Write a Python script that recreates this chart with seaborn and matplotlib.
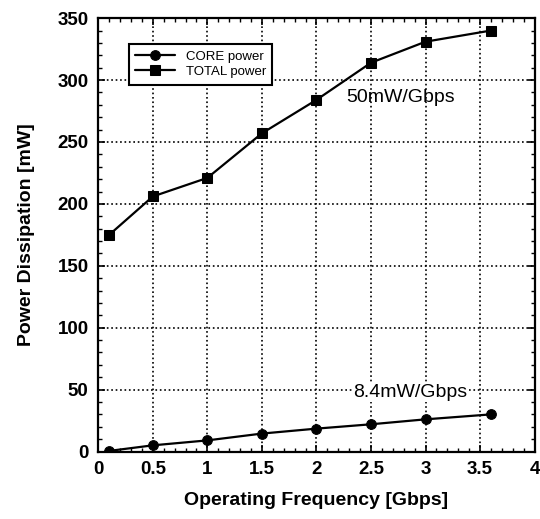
import matplotlib
matplotlib.use("Agg")
import matplotlib.pyplot as plt
import seaborn as sns
import pandas as pd
from matplotlib.ticker import MultipleLocator

# values
freq = [0.1, 0.5, 1.0, 1.5, 2.0, 2.5, 3.0, 3.6]
core_power = [0.5, 5, 9, 14.5, 18.5, 22, 26, 30]
total_power = [175, 206, 221, 257, 284, 314, 331, 340]

df = pd.DataFrame({
    'freq': freq * 2,
    'power': core_power + total_power,
    'series': ['CORE power'] * len(freq) + ['TOTAL power'] * len(freq),
})

sns.set_style("ticks")
plt.rcParams['font.family'] = ['Liberation Sans', 'DejaVu Sans']
plt.rcParams['text.color'] = 'black'
plt.rcParams['axes.labelcolor'] = 'black'
plt.rcParams['xtick.color'] = 'black'
plt.rcParams['ytick.color'] = 'black'

fig, ax = plt.subplots(figsize=(5.4, 5.19), dpi=100)
fig.subplots_adjust(left=0.182, right=0.99, top=0.965, bottom=0.13)

sns.lineplot(data=df, x='freq', y='power', hue='series', style='series',
             markers={'CORE power': 'o', 'TOTAL power': 's'}, dashes=False,
             palette={'CORE power': 'black', 'TOTAL power': 'black'},
             markersize=7, linewidth=1.6, markeredgecolor='black', ax=ax)

ax.set_xlim(0, 4)
ax.set_ylim(0, 350)
ax.xaxis.set_major_locator(MultipleLocator(0.5))
ax.xaxis.set_minor_locator(MultipleLocator(0.1))
ax.yaxis.set_major_locator(MultipleLocator(50))
ax.yaxis.set_minor_locator(MultipleLocator(10))
ax.set_xticks([0, 0.5, 1, 1.5, 2, 2.5, 3, 3.5, 4])
ax.set_xticklabels(['0', '0.5', '1', '1.5', '2', '2.5', '3', '3.5', '4'])
ax.grid(True, which='major', color='black', linestyle=':', linewidth=1.2)
ax.tick_params(which='both', direction='in', top=True, right=True,
               colors='black', labelcolor='black')
ax.tick_params(which='major', length=5, width=1.2, labelsize=13.5, pad=7)
ax.tick_params(which='minor', length=3, width=1)
for lab in ax.get_xticklabels() + ax.get_yticklabels():
    lab.set_fontweight('bold')
for sp in ax.spines.values():
    sp.set_linewidth(1.6)
    sp.set_color('black')

ax.set_xlabel('Operating Frequency [Gbps]', fontsize=14, fontweight='bold',
              labelpad=10, color='black')
ax.set_ylabel('Power Dissipation [mW]', fontsize=14, fontweight='bold',
              labelpad=16, color='black')

ax.text(2.77, 286, '50mW/Gbps', fontsize=14, ha='center', va='center', color='black')
ax.text(2.86, 48, '8.4mW/Gbps', fontsize=14, ha='center', va='center', color='black',
        bbox=dict(facecolor='white', edgecolor='none', pad=1))

leg = ax.legend(loc='upper left', bbox_to_anchor=(0.055, 0.955), fontsize=9.5,
                frameon=True, fancybox=False, framealpha=1, edgecolor='black',
                handlelength=3, borderpad=0.5, labelspacing=0.2)
leg.get_frame().set_linewidth(1.5)
for t in leg.get_texts():
    t.set_color('black')

fig.savefig('out.png', dpi=100)
